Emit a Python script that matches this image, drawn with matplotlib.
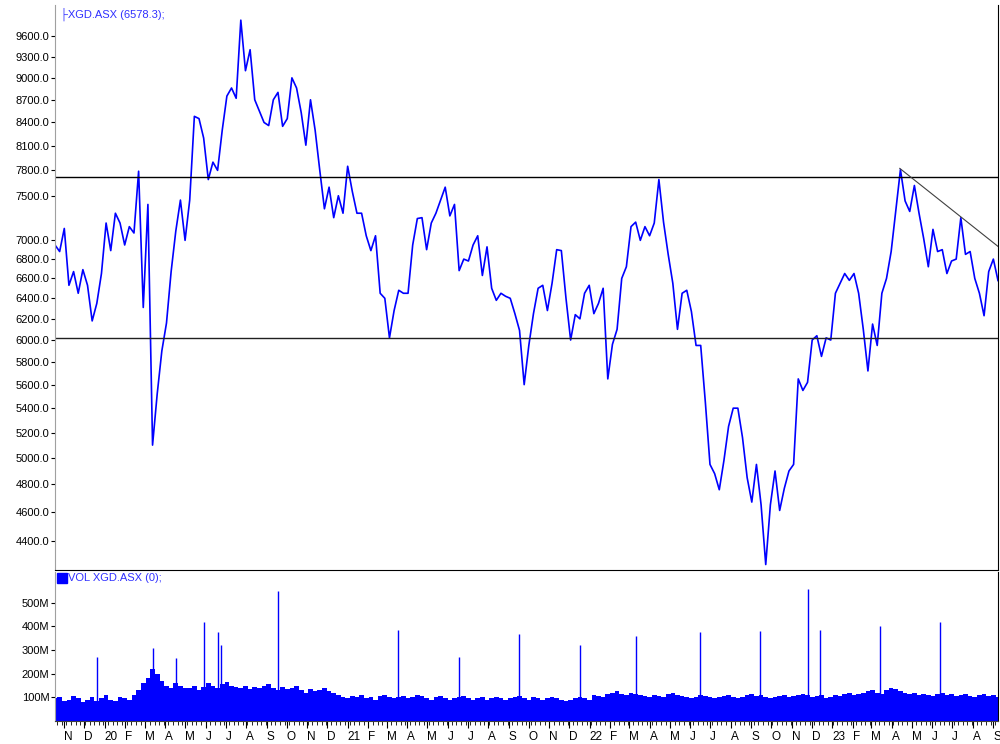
import pandas as pd
import matplotlib
matplotlib.use('Agg')
import matplotlib.pyplot as plt
import matplotlib.dates as mdates
from matplotlib.ticker import FixedLocator, FuncFormatter, NullLocator
from matplotlib.patches import Rectangle

plt.rcParams['font.family'] = ['Liberation Sans', 'DejaVu Sans']
plt.rcParams['font.size'] = 8

# weekly closes of XGD.ASX, first week ending 2019-10-18
start = '2019-10-18'
close = [6950, 6880, 7130, 6530, 6670, 6450, 6690, 6530, 6180, 6350,
         6650, 7190, 6890, 7300, 7190, 6950, 7150, 7080, 7790, 6310,
         7400, 5100, 5520, 5900, 6160, 6670, 7100, 7450, 7000, 7450,
         8480, 8450, 8200, 7690, 7900, 7800, 8300, 8750, 8860, 8720,
         9840, 9100, 9400, 8700, 8550, 8400, 8360, 8700, 8800, 8350,
         8450, 9000, 8860, 8530, 8110, 8700, 8300, 7800, 7350, 7600,
         7250, 7500, 7300, 7850, 7550, 7300, 7300, 7050, 6890, 7050,
         6450, 6400, 6020, 6280, 6480, 6450, 6450, 6950, 7240, 7250,
         6900, 7190, 7300, 7450, 7600, 7270, 7400, 6680, 6800, 6780,
         6950, 7050, 6630, 6930, 6500, 6380, 6450, 6420, 6400, 6250,
         6090, 5600, 5950, 6250, 6500, 6530, 6280, 6550, 6900, 6890,
         6400, 6000, 6240, 6200, 6450, 6530, 6250, 6350, 6500, 5650,
         5960, 6100, 6600, 6720, 7150, 7200, 7000, 7150, 7050, 7190,
         7690, 7200, 6850, 6550, 6100, 6450, 6480, 6270, 5950, 5950,
         5450, 4950, 4880, 4760, 4980, 5250, 5400, 5400, 5160, 4850,
         4670, 4950, 4650, 4240, 4650, 4900, 4610, 4770, 4900, 4950,
         5650, 5550, 5620, 6000, 6040, 5850, 6020, 6000, 6450, 6550,
         6650, 6580, 6650, 6450, 6100, 5720, 6150, 5950, 6450, 6600,
         6880, 7330, 7810, 7440, 7320, 7620, 7300, 7020, 6720, 7120,
         6880, 6900, 6650, 6780, 6800, 7250, 6850, 6880, 6600, 6450,
         6230, 6670, 6800, 6578.3]

# weekly volume, millions
volume = [95, 100, 85, 90, 105, 95, 80, 90, 100, 85, 95, 110, 90, 85, 100, 95, 90, 110,
          130, 160, 180, 220, 200, 170, 150, 140, 160, 150, 140,
          140, 150, 130, 145, 160, 150, 140, 155, 165, 150, 145, 140, 150, 135, 145, 140,
          150, 155, 140, 130, 145, 135, 140, 150, 130, 120, 135, 125, 130, 140, 125, 120,
          110, 100, 95, 105, 100, 110, 95, 100, 90, 105, 110, 100, 95, 100, 105, 95, 100, 110,
          105, 95, 90, 100, 105, 95, 90, 95, 100, 105, 95, 90, 95, 100, 90, 95, 100, 95, 90,
          95, 100, 105, 95, 90, 100, 95, 90, 95, 100, 95, 90, 85, 90, 95, 100, 95, 90,
          110, 105, 100, 115, 120, 125, 115, 110, 120, 115, 110, 105, 100, 110, 105, 100, 115,
          120, 110, 105, 100, 95, 100, 110, 105, 100, 95, 100, 105, 110, 100, 95, 100, 110,
          115, 105, 110, 100, 95, 100, 105, 110, 100, 105, 110, 115, 110, 100, 105, 110, 95,
          100, 110, 105, 115, 120, 110, 115, 120, 125, 130, 120, 115, 130, 140, 135, 125, 120,
          115, 120, 110, 115, 110, 105, 115, 120, 110, 115, 105, 110, 115, 105, 100, 110, 115,
          105, 110, 100]

spike_dates = ['2019-12-20', '2020-03-13', '2020-04-17', '2020-05-29', '2020-06-19',
               '2020-06-24', '2020-09-18', '2021-03-18', '2021-06-18', '2021-09-16',
               '2021-12-17', '2022-03-11', '2022-06-16', '2022-09-14', '2022-11-25',
               '2022-12-14', '2023-03-14', '2023-06-13']
spike_vol = [270, 310, 265, 420, 375, 320, 550, 385, 270, 370,
             320, 360, 375, 380, 560, 385, 400, 420]

resist = 7720
support = 6015
trend_dates = ['2023-04-13', '2023-09-08']
trend_vals = [7824, 6935]

price_ticks = [4400, 4600, 4800, 5000, 5200, 5400, 5600, 5800, 6000, 6200, 6400,
               6600, 6800, 7000, 7500, 7800, 8100, 8400, 8700, 9000, 9300, 9600]
vol_ticks = [100, 200, 300, 400, 500]

dates = pd.date_range(start, periods=len(close), freq='W-FRI')
blue = '#0000ff'

fig = plt.figure(figsize=(10, 7.44), dpi=100)

# price panel
ax = fig.add_axes([0.055, 0.234, 0.943, 0.759])
ax.plot(dates, close, color=blue, lw=1.2)
ax.axhline(resist, color='black', lw=1)
ax.axhline(support, color='#202020', lw=1)
ax.plot(pd.to_datetime(trend_dates), trend_vals, color='#404040', lw=0.8)
ax.set_yscale('log')
ax.set_ylim(4205, 10070)
ax.yaxis.set_major_locator(FixedLocator(price_ticks))
ax.yaxis.set_major_formatter(FuncFormatter(lambda v, p: f'{v:.1f}'))
ax.yaxis.set_minor_locator(NullLocator())
ax.set_xlim(dates[0], dates[-1])
ax.tick_params(axis='x', which='both', bottom=False, labelbottom=False)
ax.tick_params(axis='y', length=3, pad=1, labelsize=8)
ax.spines['top'].set_visible(False)
ax.spines['left'].set_color('#a0a0a0')
ax.spines['right'].set_color('black')
ax.spines['bottom'].set_color('black')
ax.text(0.005, 0.995, '\u251cXGD.ASX (6578.3);', transform=ax.transAxes,
        color='#3030ff', va='top', ha='left', fontsize=8)

# volume panel
vax = fig.add_axes([0.055, 0.031, 0.943, 0.200])
vax.bar(dates, volume, width=7, color=blue, linewidth=0)
vax.vlines(pd.to_datetime(spike_dates), 0, spike_vol, color=blue, lw=1)
vax.set_xlim(dates[0], dates[-1])
vax.set_ylim(0, 630)
vax.yaxis.set_major_locator(FixedLocator(vol_ticks))
vax.yaxis.set_major_formatter(FuncFormatter(lambda v, p: f'{int(v)}M'))
vax.tick_params(axis='y', length=3, pad=1, labelsize=8)
vax.spines['top'].set_visible(False)
vax.spines['left'].set_color('#a0a0a0')
vax.spines['right'].set_color('black')
vax.spines['bottom'].set_color('#404040')

def month_label(v, p):
    d = mdates.num2date(v)
    return d.strftime('%y') if d.month == 1 else d.strftime('%b')[0]

vax.xaxis.set_major_locator(mdates.MonthLocator())
vax.xaxis.set_major_formatter(FuncFormatter(month_label))
vax.xaxis.set_minor_locator(mdates.WeekdayLocator(byweekday=mdates.MO))
vax.tick_params(axis='x', which='major', length=5, pad=2, labelsize=8.5)
vax.tick_params(axis='x', which='minor', length=3)
for lbl in vax.get_xticklabels():
    lbl.set_horizontalalignment('left')

vax.add_patch(Rectangle((0.002, 0.926), 0.0106, 0.067, transform=vax.transAxes,
                        color=blue, clip_on=False))
vax.text(0.014, 0.995, 'VOL XGD.ASX (0);', transform=vax.transAxes,
         color='#3030ff', va='top', ha='left', fontsize=8)

fig.savefig('out.png', dpi=100)
